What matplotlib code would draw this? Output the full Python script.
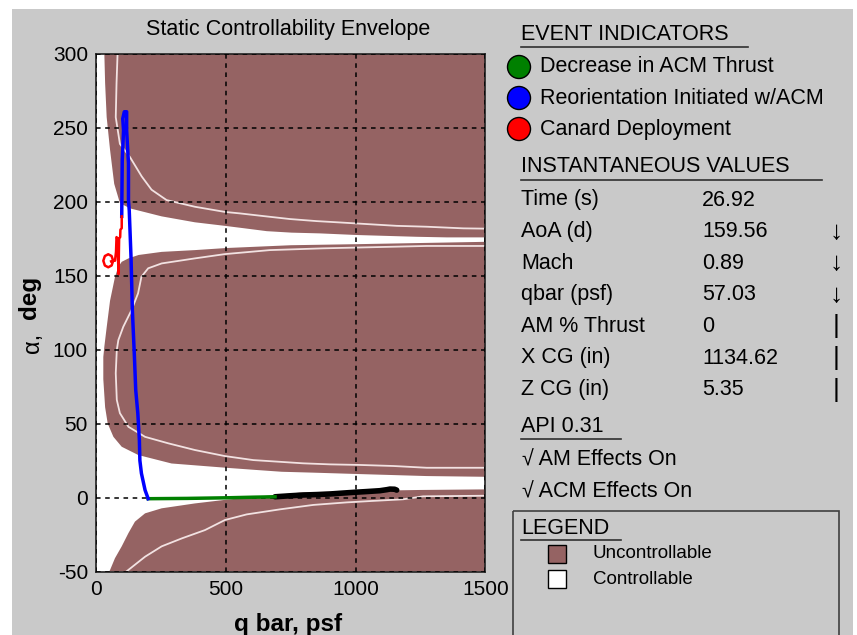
"""
Static controllability envelope display: alpha vs dynamic pressure,
with trajectory trace and the instantaneous-values side panel.
"""

import matplotlib
matplotlib.use("Agg")
import matplotlib.pyplot as plt
from matplotlib.patches import Rectangle, Circle

plt.rcParams["font.family"] = ["Liberation Sans", "DejaVu Sans"]
plt.rcParams["axes.unicode_minus"] = False

W, H = 857, 635

# ── envelope outlines (q bar psf, alpha deg) ──
upper_band_q = [31, 34, 40, 53, 69, 91, 130, 252, 380, 500, 568, 657, 753, 862, 1004, 1235, 1351, 1500, 1500]
upper_band_a = [300, 280, 257, 235, 212, 199, 195.4, 190, 186, 183.5, 182, 180, 179, 178.5, 177.4, 176.2, 175.8, 175.8, 300]

middle_band_q = [1500, 1250, 1000, 750, 500, 380, 252, 163, 124, 98, 85, 72, 53, 40, 31, 27, 27, 34, 44, 66, 98, 162,
                 290, 508, 618, 715, 837, 1004, 1274, 1500]
middle_band_a = [172.8, 172, 171.2, 170.5, 168.6, 167.2, 166, 163.9, 161.6, 159.3, 156, 149, 133, 115, 102, 95, 80, 61,
                 50, 41, 34.3, 28.7, 23, 20, 18.6, 17.4, 16.8, 15.9, 14.5, 14]

lower_band_q = [50, 53, 72, 98, 124, 149, 188, 252, 380, 500, 785, 1004, 1247, 1500, 1500]
lower_band_a = [-50, -49, -41, -33, -24, -16.3, -10.7, -7.3, -4, -1.5, 3.3, 4.4, 5.1, 5.5, -50]

# white contour lines inside the bands
top_contour_q = [82, 78, 75, 91, 130, 175, 213, 271, 380, 496, 554, 644, 746, 849, 938, 1042, 1158, 1274, 1415, 1500]
top_contour_a = [300, 280, 257, 239, 230, 217, 208, 201, 196.5, 193, 192, 190.2, 188.2, 186.8, 185.9, 184.8, 183.6,
                 183, 181.9, 181.7]
mid_contour_q = [1500, 1274, 875, 669, 496, 380, 252, 200, 174, 161, 136, 104, 85, 79, 75, 79, 91, 124, 188, 278,
                 380, 496, 605, 702, 798, 901, 1017, 1145, 1274, 1500]
mid_contour_a = [170, 170, 168.4, 167.2, 164.5, 161.6, 158.2, 154.9, 149.2, 138, 126.7, 115.4, 106.4, 99.7, 84, 66,
                 57, 47.8, 41, 36.6, 32.1, 28, 25.3, 24.2, 23.1, 22.4, 22, 21.3, 20.1, 20.1]
low_contour_q = [116, 188, 252, 330, 419, 496, 580, 708, 837, 965, 1055, 1183, 1260, 1500]
low_contour_a = [-50, -40, -33, -27.6, -22, -15.2, -11.4, -8, -5, -3.3, -2.4, -1.2, 0.8, 1.2]

# trajectory segments
black_q = [1158, 1150, 1132, 1120, 1093, 1040, 992, 950, 901, 850, 798, 750, 689]
black_a = [5.0, 5.6, 5.7, 5.3, 4.6, 4.0, 3.5, 3.0, 2.4, 2.0, 1.7, 1.2, 0.5]
green_q = [689, 600, 500, 350, 200]
green_a = [0.5, 0.2, -0.2, -0.6, -0.8]
blue_q = [200, 188, 174, 168, 166, 160, 152, 147, 139, 134, 127, 124, 124, 117, 117, 108, 102, 105, 100, 98]
blue_a = [-0.8, 5, 16.3, 25, 39, 57, 72.6, 95, 126.7, 161.6, 194, 201, 225.8, 248, 260.7, 260.7, 256, 248, 228, 190]
red_q = [98, 98, 93, 92, 88, 87, 86, 84, 82, 78, 76, 72, 65, 59, 46, 33, 27, 33, 46, 59, 65, 57]
red_a = [190, 182, 181, 176, 175, 165, 151, 160, 175, 176, 166, 160, 160, 163.2, 164.4, 163.2, 160, 156.8, 155.6,
         156.8, 160, 159.6]

x_ticks = [0, 500, 1000, 1500]
y_ticks = [-50, 0, 50, 100, 150, 200, 250, 300]

# ── side panel content ──
event_labels = ["Decrease in ACM Thrust", "Reorientation Initiated w/ACM", "Canard Deployment"]
event_colors = ["#008000", "#0000ff", "#ff0000"]
value_names = ["Time (s)", "AoA (d)", "Mach", "qbar (psf)", "AM % Thrust", "X CG (in)", "Z CG (in)"]
value_numbers = ["26.92", "159.56", "0.89", "57.03", "0", "1134.62", "5.35"]
value_trends = ["", "↓", "↓", "↓", "|", "|", "|"]
effect_labels = ["√ AM Effects On", "√ ACM Effects On"]
legend_labels = ["Uncontrollable", "Controllable"]

BROWN = "#956363"
PANEL = "#c9c9c9"
CONTOUR = "#f2e2e2"

fig = plt.figure(figsize=(W / 100, H / 100), dpi=100)
fig.patch.set_facecolor("white")
fig.add_artist(Rectangle((12 / W, 0), (853 - 12) / W, 1 - 9 / H, transform=fig.transFigure,
                         facecolor=PANEL, edgecolor="none", zorder=-5))

# main plot, placed in pixel terms
left, right, top, bottom = 96.3, 485.4, 53.6, 571.5
ax = fig.add_axes([left / W, 1 - bottom / H, (right - left) / W, (bottom - top) / H])
ax.set_facecolor("white")

for qs, als in [(upper_band_q, upper_band_a), (middle_band_q, middle_band_a), (lower_band_q, lower_band_a)]:
    ax.fill(qs, als, color=BROWN, lw=0, zorder=1)

for qs, als in [(top_contour_q, top_contour_a), (mid_contour_q, mid_contour_a), (low_contour_q, low_contour_a)]:
    ax.plot(qs, als, color=CONTOUR, lw=1.3, zorder=1.5)

ax.set_xlim(0, 1500)
ax.set_ylim(-50, 300)
ax.set_xticks(x_ticks)
ax.set_yticks(y_ticks)
ax.tick_params(length=0, labelsize=15, pad=6, colors="black")
ax.grid(True, color="black", linestyle=(0, (3, 3)), linewidth=1.1)
ax.set_axisbelow(False)
for sp in ax.spines.values():
    sp.set_color("#202020")
    sp.set_linewidth(1.2)

ax.plot(black_q, black_a, color="black", lw=4, zorder=4, solid_capstyle="round")
ax.plot(green_q, green_a, color="#008000", lw=2.5, zorder=4)
ax.plot(blue_q, blue_a, color="#0000ff", lw=2.5, zorder=4)
ax.plot(red_q, red_a, color="#ff0000", lw=1.8, zorder=4)

# overlay in pixel coordinates for the labels and side panel
ov = fig.add_axes([0, 0, 1, 1], facecolor="none", zorder=5)
ov.set_xlim(0, W)
ov.set_ylim(H, 0)
ov.axis("off")

ov.text(288, 30, "Static Controllability Envelope", ha="center", va="center", fontsize=15.5)
ov.text(288, 624, "q bar, psf", ha="center", va="center", fontsize=17.5, fontweight="bold")
ov.text(33, 343, "α,", ha="center", va="center", fontsize=17, rotation=90)
ov.text(30, 297, "deg", ha="center", va="center", fontsize=17.5, fontweight="bold", rotation=90)

FS = 15.5
tx = 521


def underline(y, x0, x1):
    ov.plot([x0, x1], [y, y], color="#303030", lw=1.2)


ov.text(tx, 34, "EVENT INDICATORS", ha="left", va="center", fontsize=FS)
underline(47, tx, 748)
for i, (lab, col) in enumerate(zip(event_labels, event_colors)):
    y = 67 + i * 31
    ov.add_patch(Circle((519, y), 11.5, facecolor=col, edgecolor="black", lw=1))
    ov.text(540, y, lab, ha="left", va="center", fontsize=FS)

ov.text(tx, 167, "INSTANTANEOUS VALUES", ha="left", va="center", fontsize=FS)
underline(180, tx, 822)
for i, (name, num, tr) in enumerate(zip(value_names, value_numbers, value_trends)):
    y = 200 + i * 31.6
    ov.text(tx, y, name, ha="left", va="center", fontsize=FS)
    ov.text(702, y, num, ha="left", va="center", fontsize=FS)
    if tr:
        ov.text(836, y, tr, ha="center", va="center", fontsize=19)

ov.text(tx, 427, "API 0.31", ha="left", va="center", fontsize=FS)
underline(439, tx, 621)
for i, lab in enumerate(effect_labels):
    ov.text(tx + 1, 460 + i * 31.5, lab, ha="left", va="center", fontsize=FS)

ov.add_patch(Rectangle((513, 511), 326, 140, facecolor="none", edgecolor="#404040", lw=1.2, clip_on=False))
ov.text(tx, 528, "LEGEND", ha="left", va="center", fontsize=FS)
underline(539.5, tx, 621)
for i, (lab, col) in enumerate(zip(legend_labels, [BROWN, "white"])):
    y = 554 + i * 25
    ov.add_patch(Rectangle((548, y - 9), 18, 18, facecolor=col, edgecolor="black", lw=1))
    ov.text(593, y, lab, ha="left", va="center", fontsize=13.5)

fig.savefig("out.png", dpi=100)
